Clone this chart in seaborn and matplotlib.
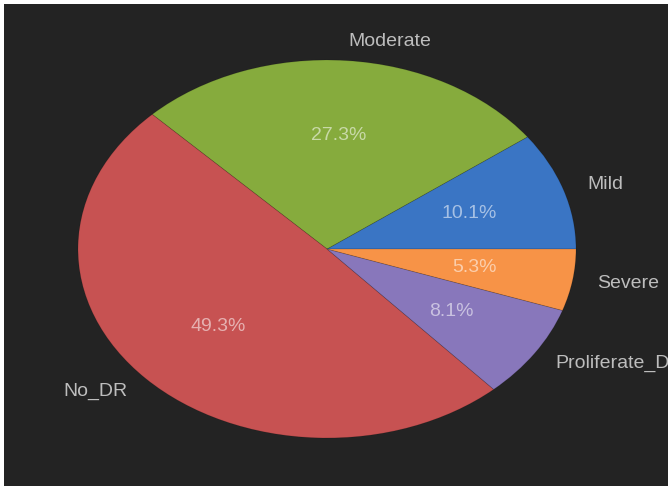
import matplotlib
matplotlib.use("Agg")
import matplotlib.pyplot as plt
import seaborn as sns

# Diabetic retinopathy grade counts
categories = ["Mild", "Moderate", "No_DR", "Proliferate_DR", "Severe"]
counts = [370, 999, 1805, 295, 193]
slice_colors = ["#3a75c4", "#86ab3d", "#c75252", "#8877bb", "#f79347"]

sns.set_theme(style="dark")
plt.rcParams["font.family"] = ["Liberation Sans", "DejaVu Sans"]

W, H = 668, 486
fig = plt.figure(figsize=(W / 100, H / 100), dpi=100, facecolor="white")
ax = fig.add_axes([4 / W, 0, (W - 4) / W, (H - 4) / H])
ax.set_facecolor("#232323")

palette = sns.color_palette(slice_colors)
wedges, texts, autotexts = ax.pie(
    counts,
    labels=categories,
    colors=palette,
    autopct="%1.1f%%",
    startangle=0,
    textprops={"fontsize": 14},
    wedgeprops={"linewidth": 0.6, "edgecolor": (0, 0, 0, 0.15)},
)
for t in texts:
    t.set_color("#bdbdbd")
for t in autotexts:
    t.set_color("white")
    t.set_alpha(0.55)
    t.set_fontsize(14)

# stretched (elliptical) pie filling the dark panel
ax.set_aspect("auto")
ax.set_frame_on(True)
for s in ax.spines.values():
    s.set_visible(False)
ax.set_xlim(-323 / 249, (664 - 323) / 249)
ax.set_ylim(-237 / 189, 245 / 189)
ax.set_xticks([])
ax.set_yticks([])

fig.savefig("out.png", dpi=100, facecolor=fig.get_facecolor())
